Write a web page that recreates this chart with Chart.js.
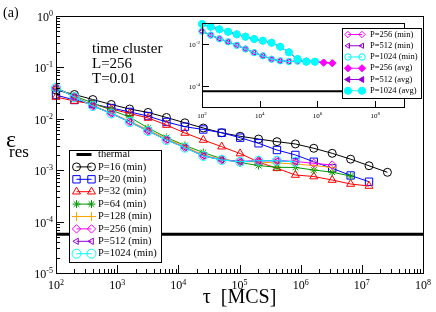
<!DOCTYPE html>
<html lang="en">
<head>
<meta charset="UTF-8">
<title>Residual energy vs annealing time</title>
<script src="https://cdn.jsdelivr.net/npm/chart.js"></script>
<style>
    body { margin: 0; background: #fff; }
    #wrap { position: relative; width: 436px; height: 312px; }
    #main { position: absolute; left: 0; top: 0; }
    /* inset sits over the upper right of the main plot */
    #inset { position: absolute; left: 182px; top: 17px; }
</style>
</head>
<body>
<div id="wrap">
    <canvas id="main" width="436" height="312"></canvas>
    <canvas id="inset" width="242" height="106"></canvas>
</div>
<script>
// annealing times tau [MCS], doubling from 100
const tau = [100, 200, 400, 800, 1600, 3200, 6400, 12800, 25600, 51200, 102400,
             204800, 409600, 819200, 1638400, 3276800, 6553600, 13107200, 26214400];

// residual energy, minimum over replicas
const p16   = [0.0363, 0.0297, 0.0237, 0.0190, 0.0155, 0.0133, 0.0106, 0.00836, 0.00662, 0.00535,
               0.00457, 0.00404, 0.00359, 0.00324, 0.00267, 0.00213, 0.00164, 0.00122, 0.00091];
const p20   = [0.0290, 0.0232, 0.0194, 0.0162, 0.0136, 0.0113, 0.00867, 0.00702, 0.00619, 0.00535,
               0.00429, 0.00334, 0.00247, 0.00198, 0.00146, 0.00109, 0.00079, 0.000597];
const p32   = [0.0265, 0.0222, 0.0194, 0.0155, 0.0127, 0.0104, 0.00757, 0.0053, 0.00387, 0.00287,
               0.00211, 0.00144, 0.00109, 0.000807, 0.000754, 0.000644, 0.000539, 0.000493];
const p64   = [0.0397, 0.0278, 0.0203, 0.0148, 0.0108, 0.00662, 0.00433, 0.00303, 0.00221, 0.00167,
               0.00141, 0.00123, 0.00114, 0.00113, 0.00101, 0.000914, 0.000771];
const p128  = [0.0405, 0.0270, 0.0182, 0.0130, 0.0090, 0.0061, 0.0041, 0.0029, 0.00198, 0.00162,
               0.00148, 0.00144, 0.00138, 0.00132, 0.00123, 0.00113];
const p256  = [0.0401, 0.0266, 0.0178, 0.0128, 0.0087, 0.0058, 0.0039, 0.00276, 0.0019, 0.00159,
               0.00148, 0.00153, 0.00154, 0.00148, 0.00136, 0.00126];
const p512  = [0.0400, 0.0266, 0.0178, 0.0127, 0.0087, 0.0058, 0.0039, 0.00275, 0.0019, 0.00158,
               0.00147, 0.00152, 0.00152, 0.00146];
const p1024 = [0.0403, 0.0265, 0.0177, 0.0127, 0.00867, 0.00579, 0.00387, 0.00274, 0.00189, 0.00158,
               0.00146, 0.00153, 0.00153, 0.00146];

// inset: residual energy averaged over replicas
const p256avg  = [0.0896, 0.0667, 0.0501, 0.0385, 0.029, 0.0223, 0.0173, 0.0144, 0.0115, 0.0074,
                  0.00403, 0.00193, 0.00144, 0.00144, 0.00129, 0.00121];
const p512avg  = [0.0893, 0.0665, 0.0500, 0.0384, 0.029, 0.0222, 0.0172, 0.0143, 0.0114, 0.0074,
                  0.0040, 0.00192, 0.00144, 0.00143];
const p1024avg = [0.0896, 0.0667, 0.0501, 0.0385, 0.029, 0.0223, 0.0173, 0.0144, 0.0115, 0.0074,
                  0.00403, 0.00193, 0.00144, 0.00144];

const thermal = 5.7e-5;

// decade exponents for tick labels
const xExp = [2, 3, 4, 5, 6, 7, 8];
const yExp = [0, -1, -2, -3, -4, -5];
const insetXExp = [2, 4, 6, 8];
const insetYExp = [-2, -4];

const SERIF = '"Liberation Serif", "DejaVu Serif", serif';
const CLEAR = 'rgba(0,0,0,0)';

const mainSeries = [
    { label: 'P=16 (min)',   data: p16,   color: '#000000', shape: 'circle',   radius: 4 },
    { label: 'P=20 (min)',   data: p20,   color: '#0000ff', shape: 'rect',     radius: 5.2 },
    { label: 'P=32 (min)',   data: p32,   color: '#ff0000', shape: 'triangle', radius: 4.6 },
    { label: 'P=64 (min)',   data: p64,   color: '#009900', shape: 'star',     radius: 4 },
    { label: 'P=128 (min)',  data: p128,  color: '#ffa500', shape: 'cross',    radius: 4.5 },
    { label: 'P=256 (min)',  data: p256,  color: '#ff00ff', shape: 'rectRot',  radius: 4.2 },
    { label: 'P=512 (min)',  data: p512,  color: '#9400d3', shape: 'triangle', radius: 3.6, rotation: -90 },
    { label: 'P=1024 (min)', data: p1024, color: '#00ffff', shape: 'circle',   radius: 4.5 }
];

const insetSeries = [
    { label: 'P=256 (min)',  data: p256,     color: '#ff00ff', shape: 'rectRot',  radius: 3.2 },
    { label: 'P=512 (min)',  data: p512,     color: '#9400d3', shape: 'triangle', radius: 3, rotation: -90 },
    { label: 'P=1024 (min)', data: p1024,    color: '#00ffff', shape: 'circle',   radius: 3.2 },
    { label: 'P=256 (avg)',  data: p256avg,  color: '#ff00ff', shape: 'rectRot',  radius: 3.6, filled: true },
    { label: 'P=512 (avg)',  data: p512avg,  color: '#9400d3', shape: 'triangle', radius: 3.4, rotation: -90, filled: true },
    { label: 'P=1024 (avg)', data: p1024avg, color: '#00ffff', shape: 'circle',   radius: 3.6, filled: true }
];

function pts(arr) {
    return arr.map((v, i) => ({ x: tau[i], y: v }));
}

function toDataset(s, i, n) {
    return {
        label: s.label,
        data: pts(s.data),
        borderColor: s.color,
        backgroundColor: CLEAR,
        borderWidth: 1,
        pointStyle: s.shape,
        pointRadius: s.radius,
        pointRotation: s.rotation || 0,
        pointBorderColor: s.color,
        pointBackgroundColor: s.filled ? s.color : CLEAR,
        pointBorderWidth: 1,
        tension: 0,
        clip: false,
        order: n - i   // later series on top, like the original
    };
}

function thermalSet(x0, x1, width) {
    return {
        label: 'thermal',
        data: [{ x: x0, y: thermal }, { x: x1, y: thermal }],
        borderColor: '#000', borderWidth: width, pointRadius: 0, clip: false, order: 100
    };
}

// "10" with a raised exponent
function powerLabel(ctx, exp, x, y, align, big, small, raise) {
    ctx.font = big + 'px ' + SERIF;
    const wb = ctx.measureText('10').width;
    ctx.font = small + 'px ' + SERIF;
    const we = ctx.measureText(String(exp)).width;
    const x0 = align === 'right' ? x - wb - we : x - (wb + we) / 2;
    ctx.textAlign = 'left';
    ctx.textBaseline = 'alphabetic';
    ctx.font = big + 'px ' + SERIF;
    ctx.fillText('10', x0, y);
    ctx.font = small + 'px ' + SERIF;
    ctx.fillText(String(exp), x0 + wb, y - raise);
}

// legend sample: line with a marker at each end
function drawKey(ctx, s, x1, x2, y) {
    ctx.strokeStyle = s.color;
    ctx.lineWidth = s.width || 1;
    ctx.beginPath();
    ctx.moveTo(x1, y);
    ctx.lineTo(x2, y);
    ctx.stroke();
    if (!s.shape) return;
    ctx.lineWidth = 1;
    ctx.fillStyle = s.filled ? s.color : CLEAR;
    [x1, x2].forEach(px => Chart.helpers.drawPoint(ctx,
        { pointStyle: s.shape, radius: s.radius, rotation: s.rotation || 0, borderWidth: 1 }, px, y));
}

function drawLegend(ctx, box, rows, opt) {
    ctx.fillStyle = '#fff';
    ctx.fillRect(box.x, box.y, box.w, box.h);
    ctx.strokeStyle = '#000';
    ctx.lineWidth = 1;
    ctx.strokeRect(box.x + 0.5, box.y + 0.5, box.w, box.h);
    rows.forEach((s, i) => {
        const y = opt.y0 + i * opt.step;
        drawKey(ctx, s, opt.x1, opt.x2, y);
        ctx.fillStyle = '#000';
        ctx.font = opt.font + 'px ' + SERIF;
        ctx.textAlign = 'left';
        ctx.textBaseline = 'middle';
        ctx.fillText(s.label, opt.tx, y);
    });
}

function inRange(v, s) {
    return v >= s.min * 0.9999 && v <= s.max * 1.0001;
}

const mainDecor = {
    id: 'mainDecor',
    afterDatasetsDraw(chart) {
        const { ctx, chartArea: a, scales: { x, y } } = chart;
        ctx.save();
        ctx.strokeStyle = '#000';
        ctx.lineWidth = 1;
        ctx.strokeRect(a.left + 0.5, a.top + 0.5, a.right - a.left, a.bottom - a.top);

        // inward ticks, long at decades
        ctx.beginPath();
        for (let e = -6; e <= 8; e++) {
            for (let m = 1; m <= 9; m++) {
                const v = m * Math.pow(10, e);
                const len = m === 1 ? 8 : 4;
                if (inRange(v, x)) {
                    const px = Math.round(x.getPixelForValue(v)) + 0.5;
                    ctx.moveTo(px, a.bottom);
                    ctx.lineTo(px, a.bottom - len);
                }
                if (inRange(v, y)) {
                    const py = Math.round(y.getPixelForValue(v)) + 0.5;
                    ctx.moveTo(a.left, py);
                    ctx.lineTo(a.left + len, py);
                }
            }
        }
        ctx.stroke();

        ctx.fillStyle = '#000';
        xExp.forEach(e => powerLabel(ctx, e, x.getPixelForValue(Math.pow(10, e)), 289, 'center', 12, 8, 4.5));
        yExp.forEach(e => powerLabel(ctx, e, 53, y.getPixelForValue(Math.pow(10, e)) + 5, 'right', 12, 8, 5));

        // axis titles and annotations
        ctx.textAlign = 'left';
        ctx.textBaseline = 'alphabetic';
        ctx.font = '14px ' + SERIF;
        ctx.fillText('(a)', 3, 17);
        ctx.font = '24px ' + SERIF;
        ctx.fillText('ε', 6, 147);
        ctx.font = '17px ' + SERIF;
        ctx.fillText('res', 9, 157);
        ctx.font = '20px ' + SERIF;
        ctx.textAlign = 'center';
        ctx.fillText('τ  [MCS]', (a.left + a.right) / 2, 303);
        ctx.textAlign = 'left';
        ctx.font = '15px ' + SERIF;
        ctx.fillText('time cluster', 92, 53);
        ctx.fillText('L=256', 92, 68);
        ctx.fillText('T=0.01', 92, 83);

        const rows = [{ label: 'thermal', color: '#000', width: 3 }].concat(mainSeries);
        drawLegend(ctx, { x: 69, y: 150, w: 92, h: 112 }, rows,
            { y0: 154.5, step: 12.4, x1: 76.5, x2: 91.5, tx: 98, font: 10.5 });
        ctx.restore();
    }
};

const insetDecor = {
    id: 'insetDecor',
    beforeDatasetsDraw(chart) {
        const { ctx, chartArea: a } = chart;
        ctx.save();
        ctx.fillStyle = '#fff';
        ctx.fillRect(a.left, a.top, a.right - a.left, a.bottom - a.top);
        ctx.restore();
    },
    afterDatasetsDraw(chart) {
        const { ctx, chartArea: a, scales: { x, y } } = chart;
        ctx.save();
        ctx.strokeStyle = '#000';
        ctx.lineWidth = 1;
        ctx.strokeRect(a.left + 0.5, a.top + 0.5, a.right - a.left, a.bottom - a.top);
        ctx.beginPath();
        insetXExp.forEach(e => {
            const px = Math.round(x.getPixelForValue(Math.pow(10, e))) + 0.5;
            ctx.moveTo(px, a.bottom);
            ctx.lineTo(px, a.bottom - 6);
        });
        insetYExp.forEach(e => {
            const py = Math.round(y.getPixelForValue(Math.pow(10, e))) + 0.5;
            ctx.moveTo(a.left, py);
            ctx.lineTo(a.left + 7, py);
        });
        ctx.stroke();
        ctx.fillStyle = '#000';
        insetXExp.forEach(e => powerLabel(ctx, e, x.getPixelForValue(Math.pow(10, e)), a.bottom + 11, 'center', 7, 5, 3));
        insetYExp.forEach(e => powerLabel(ctx, e, a.left - 2, y.getPixelForValue(Math.pow(10, e)) + 3, 'right', 7, 5, 3));

        drawLegend(ctx, { x: 160, y: 11, w: 79, h: 70 }, insetSeries,
            { y0: 17.5, step: 11.25, x1: 166, x2: 180, tx: 188, font: 8.5 });
        ctx.restore();
    }
};

const logAxis = (min, max) => ({
    type: 'logarithmic', min: min, max: max, display: false
});

new Chart(document.getElementById('main'), {
    type: 'line',
    data: {
        datasets: [thermalSet(1e2, 1e8, 3)].concat(mainSeries.map((s, i) => toDataset(s, i, mainSeries.length)))
    },
    options: {
        responsive: false,
        animation: false,
        layout: { padding: { left: 56, top: 16, right: 13, bottom: 39 } },
        scales: { x: logAxis(1e2, 1e8), y: logAxis(1e-5, 1) },
        plugins: { legend: { display: false }, tooltip: { enabled: false } }
    },
    plugins: [mainDecor]
});

new Chart(document.getElementById('inset'), {
    type: 'line',
    data: {
        datasets: [thermalSet(1e2, 1e9, 2)].concat(insetSeries.map((s, i) => toDataset(s, i, insetSeries.length)))
    },
    options: {
        responsive: false,
        animation: false,
        layout: { padding: { left: 20, top: 6, right: 20, bottom: 16 } },
        scales: { x: logAxis(1e2, 1e9), y: logAxis(1e-5, 1e-1) },
        plugins: { legend: { display: false }, tooltip: { enabled: false } }
    },
    plugins: [insetDecor]
});
</script>
</body>
</html>
